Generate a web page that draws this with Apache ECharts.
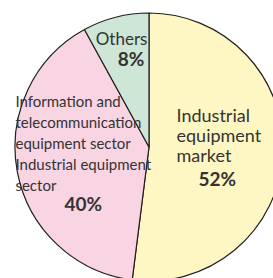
<!DOCTYPE html>
<html>
<head>
<meta charset="utf-8">
<script src="https://cdn.jsdelivr.net/npm/echarts@6/dist/echarts.min.js"></script>
<style>
html,body{margin:0;padding:0;background:#fff;}
#c{width:273px;height:278px;}
</style>
</head>
<body>
<div id="c"></div>
<script>
// Data
var categories = [
  'Industrial\nequipment\nmarket',
  'Information and\ntelecommunication\nequipment sector\nIndustrial equipment\nsector',
  'Others'
];
var shares = [52, 40, 8];
var sliceColors = ['#FFF7C3', '#F9D4E3', '#CDE6D6'];
var nameStyles = ['big', 'small', 'mid'];
var pctStyles = ['pctBig', 'pctSmall', 'pctMid'];
var labelShift = [[0, -3], [3, -9], [-10, -31]];

var chart = echarts.init(document.getElementById('c'), null, {renderer: 'svg'});
var data = categories.map(function (n, i) {
  return {
    name: n,
    value: shares[i],
    itemStyle: {color: sliceColors[i]},
    label: {
      formatter: '{' + nameStyles[i] + '|' + n + '}\n{' + pctStyles[i] + '|' + shares[i] + '%}'
    }
  };
});
var pctBase = {fontFamily: 'Lato', fontSize: 19, fontWeight: 'bold', color: '#333'};
chart.setOption({
  animation: false,
  series: [{
    type: 'pie',
    center: [149, 147],
    radius: 134,
    startAngle: 90,
    clockwise: true,
    silent: true,
    itemStyle: {borderColor: '#231f20', borderWidth: 1.2},
    labelLine: {show: false},
    label: {
      show: true,
      position: 'inside',
      fontFamily: 'Lato',
      color: '#333',
      rich: {
        big: {fontFamily: 'Lato', fontSize: 18, lineHeight: 20, color: '#333', align: 'left'},
        small: {fontFamily: 'Lato', fontSize: 15, lineHeight: 21, color: '#333', align: 'left'},
        mid: {fontFamily: 'Lato', fontSize: 17, lineHeight: 20, color: '#333', align: 'left'},
        pctBig: Object.assign({lineHeight: 27, align: 'left', padding: [0, 0, 0, 22]}, pctBase),
        pctSmall: Object.assign({lineHeight: 16, align: 'center'}, pctBase),
        pctMid: Object.assign({lineHeight: 20, align: 'right', padding: [0, 3, 0, 0]}, pctBase)
      }
    },
    labelLayout: function (p) {
      var s = labelShift[p.dataIndex];
      return {dx: s[0], dy: s[1]};
    },
    data: data
  }]
});
</script>
</body>
</html>
